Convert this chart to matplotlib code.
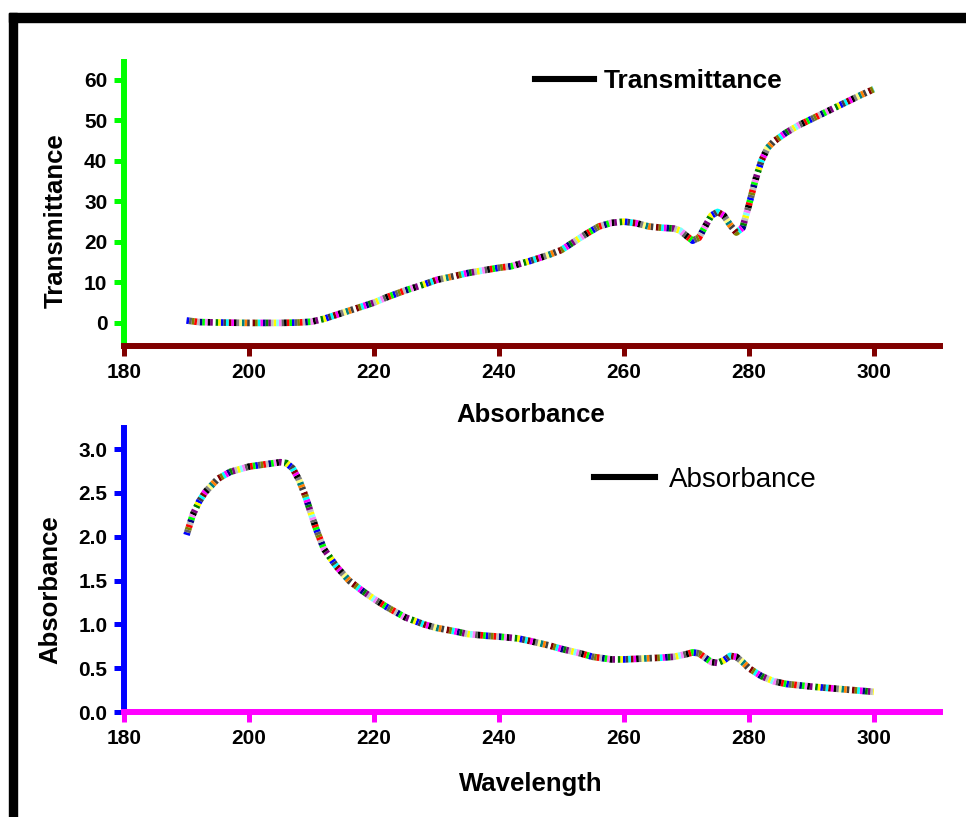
import matplotlib
matplotlib.use('Agg')
import matplotlib.pyplot as plt
from matplotlib.lines import Line2D
from matplotlib.patches import Rectangle
from matplotlib.ticker import FormatStrFormatter

plt.rcParams['font.family'] = ['Liberation Sans', 'DejaVu Sans']
plt.rcParams['lines.scale_dashes'] = False

# transmittance spectrum (top panel)
wl_t = [190, 192, 195, 200, 205, 208, 210, 212, 215, 218, 220, 222, 225, 228,
        230, 233, 235, 238, 240, 242, 245, 248, 250, 252, 254, 256, 258, 260,
        262, 264, 266, 268, 269, 270, 271, 272, 273, 274, 275, 276, 277, 278,
        279, 280, 281, 282, 283, 284, 286, 288, 290, 292, 294, 296, 298, 300]
trans = [0.6, 0.2, 0.1, 0.0, 0.0, 0.1, 0.3, 1.0, 2.5, 4.0, 5.0, 6.3, 8.0, 9.5,
         10.6, 11.6, 12.3, 13.1, 13.6, 14.0, 15.3, 16.8, 18.0, 20.0, 22.0, 23.8, 24.7, 25.0,
         24.6, 23.8, 23.5, 23.3, 22.8, 21.5, 20.3, 21.0, 23.8, 26.5, 27.4, 26.5, 24.2, 22.3,
         23.5, 29.0, 35.0, 40.0, 43.2, 44.8, 47.0, 48.8, 50.3, 51.8, 53.3, 54.8, 56.3, 57.7]

# absorbance spectrum (bottom panel)
wl_a = [190, 191, 192, 193, 195, 197, 200, 203, 205, 206, 207, 208, 209, 210,
        211, 212, 214, 216, 218, 220, 222, 225, 228, 230, 233, 235, 238, 240,
        243, 245, 248, 250, 253, 255, 258, 260, 263, 266, 268, 270, 271, 272,
        273, 274, 275, 276, 277, 278, 279, 280, 282, 284, 286, 290, 295, 300]
absorb = [2.02, 2.25, 2.40, 2.51, 2.66, 2.74, 2.80, 2.83, 2.85, 2.84, 2.78, 2.65, 2.47, 2.25,
          2.04, 1.86, 1.66, 1.50, 1.39, 1.29, 1.20, 1.08, 1.00, 0.96, 0.92, 0.89, 0.87, 0.86,
          0.84, 0.81, 0.76, 0.72, 0.67, 0.63, 0.60, 0.60, 0.61, 0.62, 0.63, 0.66, 0.68, 0.67,
          0.62, 0.57, 0.56, 0.59, 0.64, 0.63, 0.57, 0.50, 0.41, 0.35, 0.32, 0.29, 0.26, 0.23]

x_ticks = [180, 200, 220, 240, 260, 280, 300]

# order of the little coloured stripes along each curve
stripe_colors = ['#0000ff', '#00ff00', '#ff0000', '#000000', '#606060', '#ff80ff',
                 '#80ffff', '#ffff00', '#c0c0c0', '#800080', '#008000', '#000080',
                 '#ff00ff', '#00ffff', '#808000', '#800000', '#ffffff', '#404040',
                 '#ff8000', '#008080', '#ffff80', '#808080', '#000000', '#ff00ff',
                 '#800000', '#00ffff', '#404040', '#0000ff', '#ffff00', '#008000',
                 '#ffffff', '#800080', '#000000', '#ff80ff', '#00ff00', '#000080',
                 '#c0c0c0', '#ff0000', '#808000', '#606060']


def striped_line(ax, x, y, seg=1.9, lw=4.8):
    n = len(stripe_colors)
    for i, c in enumerate(stripe_colors):
        ax.plot(x, y, color=c, lw=lw, linestyle=(i * seg, (seg, (n - 1) * seg)),
                dash_capstyle='butt', solid_capstyle='butt', zorder=3)


def style_axes(ax, left_color, bottom_color):
    for s in ['top', 'right']:
        ax.spines[s].set_visible(False)
    ax.spines['left'].set_color(left_color)
    ax.spines['bottom'].set_color(bottom_color)
    ax.spines['left'].set_linewidth(4.3)
    ax.spines['bottom'].set_linewidth(4.3)
    ax.tick_params(axis='y', colors=left_color, length=7, width=3.6, pad=5,
                   labelcolor='black', labelsize=15)
    ax.tick_params(axis='x', colors=bottom_color, length=7, width=3.6, pad=5,
                   labelcolor='black', labelsize=15)
    for lab in ax.get_xticklabels() + ax.get_yticklabels():
        lab.set_fontweight('bold')


fig = plt.figure(figsize=(9.66, 8.17), dpi=100)

# frame on top and left edges
fig.patches.append(Rectangle((9 / 966, 1 - 22 / 817), 1, 9 / 817, color='black',
                             transform=fig.transFigure, figure=fig))
fig.patches.append(Rectangle((9 / 966, 0), 8 / 966, 1 - 13 / 817, color='black',
                             transform=fig.transFigure, figure=fig))

ax1 = fig.add_axes([0.1284, 0.5765, 0.8447, 0.3476])
striped_line(ax1, wl_t, trans)
ax1.set_xlim(180, 310.6)
ax1.set_ylim(-5.7, 64.4)
ax1.set_xticks(x_ticks)
ax1.set_yticks([0, 10, 20, 30, 40, 50, 60])
style_axes(ax1, '#00ff00', '#800000')
ax1.set_xlabel('Absorbance', fontsize=18.5, fontweight='bold')
ax1.set_ylabel('Transmittance', fontsize=18.5, fontweight='bold')
ax1.xaxis.set_label_coords(0.499, -0.20)
ax1.yaxis.set_label_coords(-0.069, 0.44)
h1 = Line2D([], [], color='black', lw=4.4)
ax1.legend([h1], ['Transmittance'], loc='center left', bbox_to_anchor=(0.504, 0.933),
           frameon=False, borderpad=0, borderaxespad=0, handlelength=2.24,
           handletextpad=0.36, prop={'size': 19, 'weight': 'bold'})

ax2 = fig.add_axes([0.1284, 0.1285, 0.8447, 0.3476])
striped_line(ax2, wl_a, absorb)
ax2.set_xlim(180, 310.6)
ax2.set_ylim(0, 3.24)
ax2.set_xticks(x_ticks)
ax2.set_yticks([0, 0.5, 1.0, 1.5, 2.0, 2.5, 3.0])
ax2.yaxis.set_major_formatter(FormatStrFormatter('%.1f'))
style_axes(ax2, '#0000ff', '#ff00ff')
ax2.set_xlabel('Wavelength', fontsize=18.5, fontweight='bold')
ax2.set_ylabel('Absorbance', fontsize=18.5, fontweight='bold')
ax2.xaxis.set_label_coords(0.499, -0.211)
ax2.yaxis.set_label_coords(-0.075, 0.43)
h2 = Line2D([], [], color='black', lw=4.4)
ax2.legend([h2], ['Absorbance'], loc='center left', bbox_to_anchor=(0.576, 0.817),
           frameon=False, borderpad=0, borderaxespad=0, handlelength=2.2,
           handletextpad=0.5, prop={'size': 20})

fig.savefig('out.png', dpi=100)
